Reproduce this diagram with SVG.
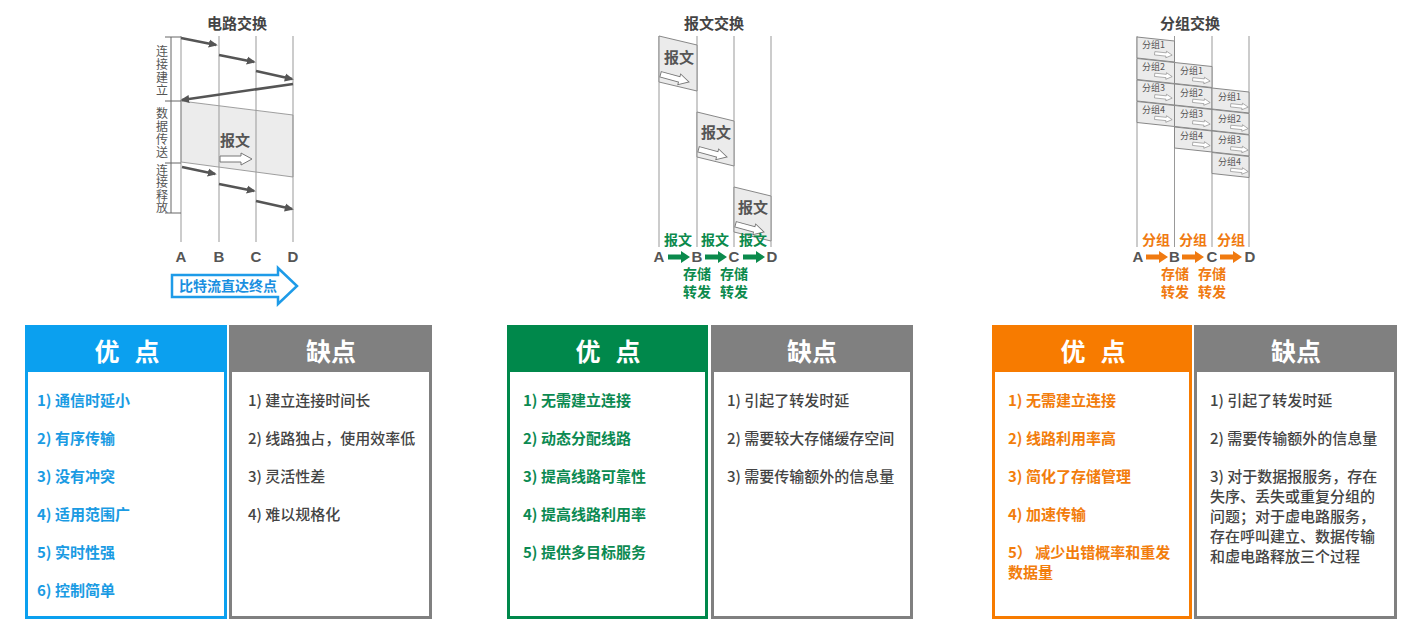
<svg xmlns="http://www.w3.org/2000/svg" width="1428" height="633" viewBox="0 0 1428 633">
<style>
.cjk{font-family:"Noto Sans CJK SC","Liberation Sans",sans-serif}
.title{font-family:"Noto Sans CJK SC",sans-serif;font-size:15px;font-weight:bold;fill:#444;text-anchor:middle}
.lat{font-family:"Liberation Sans","Noto Sans CJK SC",sans-serif;font-size:15px;font-weight:bold;fill:#555;text-anchor:middle}
.vl{stroke:#999;stroke-width:1;fill:none}
.sig{stroke:#555;stroke-width:2.5;fill:none;marker-end:url(#ah)}
.brk{font-family:"Noto Sans CJK SC",sans-serif;font-size:12px;fill:#555;writing-mode:tb;glyph-orientation-vertical:0}
.box{fill:#ebebeb;stroke:#888;stroke-width:1}
.boxt{font-family:"Noto Sans CJK SC",sans-serif;font-size:15px;font-weight:bold;fill:#555;text-anchor:middle}
.pt{font-family:"Noto Sans CJK SC",sans-serif;font-size:9px;fill:#555}
.gl{font-family:"Noto Sans CJK SC",sans-serif;font-size:14px;font-weight:bold;fill:#0b8a4c;text-anchor:middle}
.ol{font-family:"Noto Sans CJK SC",sans-serif;font-size:14px;font-weight:bold;fill:#f07a10;text-anchor:middle}
.hd{font-family:"Noto Sans CJK SC",sans-serif;font-size:25px;font-weight:bold;fill:#fff;text-anchor:middle}
.it{font-family:"Noto Sans CJK SC",sans-serif;font-size:15px;font-weight:bold}
.neg{font-family:"Noto Sans CJK SC",sans-serif;font-size:15px;font-weight:500;fill:#444}
.blue{fill:#1a9be3}.green{fill:#0c8a52}.orange{fill:#f27d0c}
</style>
<defs>
<marker id="ah" viewBox="0 0 10 10" refX="8" refY="5" markerWidth="9" markerHeight="9" markerUnits="userSpaceOnUse" orient="auto"><path d="M0,0.5 L10,5 L0,9.5 z" fill="#555"/></marker>
<path id="ha" d="M0,3 H21 V0 L32,6 L21,12 V9 H0 Z" fill="#fff" stroke="#777" stroke-width="1"/>
<path id="ga" d="M0,-2.6 H13 V-6 L22,0 L13,6 V2.6 H0 Z"/>
</defs>
<rect width="1428" height="633" fill="#fff"/>

<g id="circuit">
<text class="title" x="237" y="28.5">电路交换</text>
<polygon points="181,101 293,115 293,177 181,162" fill="#ececec" stroke="#888" stroke-width="0.8"/>
<line class="vl" x1="181" y1="36" x2="181" y2="242"/>
<line class="vl" x1="219" y1="36" x2="219" y2="242"/>
<line class="vl" x1="256" y1="36" x2="256" y2="242"/>
<line class="vl" x1="293" y1="36" x2="293" y2="242"/>
<line x1="171" y1="37" x2="171" y2="213" stroke="#666" stroke-width="1"/>
<line x1="165" y1="37" x2="181" y2="37" stroke="#666" stroke-width="1"/>
<line x1="165" y1="101" x2="181" y2="101" stroke="#666" stroke-width="1"/>
<line x1="165" y1="163" x2="181" y2="163" stroke="#666" stroke-width="1"/>
<line x1="165" y1="213" x2="181" y2="213" stroke="#666" stroke-width="1"/>
<text class="brk" x="162" y="45" letter-spacing="1">连接建立</text>
<text class="brk" x="162" y="107" letter-spacing="1">数据传送</text>
<text class="brk" x="162" y="164" letter-spacing="0.5">连接释放</text>
<text class="boxt" x="235" y="146" font-size="16">报文</text>
<use href="#ha" transform="translate(220,153)"/>
<text class="lat" x="181" y="262">A</text>
<text class="lat" x="219" y="262">B</text>
<text class="lat" x="256" y="262">C</text>
<text class="lat" x="293" y="262">D</text>
<path d="M172,275 H278 V268 L297,286 L278,304 V297 H172 Z" fill="#fff" stroke="#1e9be8" stroke-width="2.5" stroke-linejoin="miter"/>
<text class="cjk" x="228" y="291" font-size="14" font-weight="bold" fill="#1a8fe0" text-anchor="middle">比特流直达终点</text>
</g>

<g id="message">
<text class="title" x="714" y="28.5">报文交换</text>
<line class="vl" x1="659" y1="36" x2="659" y2="247"/>
<line class="vl" x1="697" y1="36" x2="697" y2="247"/>
<line class="vl" x1="734" y1="36" x2="734" y2="247"/>
<line class="vl" x1="771" y1="36" x2="771" y2="247"/>
<polygon class="box" points="659,36 697,45 697,91 659,82"/>
<text class="boxt" x="679" y="63">报文</text>
<use href="#ha" transform="translate(662,69) rotate(15) scale(0.92)"/>
<polygon class="box" points="697,112 734,121 734,166 697,157"/>
<text class="boxt" x="716" y="138">报文</text>
<use href="#ha" transform="translate(700,144) rotate(15) scale(0.92)"/>
<polygon class="box" points="734,187 771,196 771,241 734,232"/>
<text class="boxt" x="753" y="213">报文</text>
<use href="#ha" transform="translate(737,219) rotate(15) scale(0.92)"/>
<text class="gl" x="678" y="245">报文</text>
<text class="gl" x="715" y="245">报文</text>
<text class="gl" x="753" y="245">报文</text>
<text class="lat" x="659" y="262">A</text>
<text class="lat" x="697" y="262">B</text>
<text class="lat" x="734" y="262">C</text>
<text class="lat" x="772" y="262">D</text>
<text class="gl" x="697" y="279">存储</text>
<text class="gl" x="734" y="279">存储</text>
<text class="gl" x="697" y="297">转发</text>
<text class="gl" x="734" y="297">转发</text>
</g>

<g id="packet">
<text class="title" x="1190" y="28.5">分组交换</text>
<line class="vl" x1="1137" y1="36" x2="1137" y2="247"/>
<line class="vl" x1="1174.5" y1="36" x2="1174.5" y2="247"/>
<line class="vl" x1="1212" y1="36" x2="1212" y2="247"/>
<line class="vl" x1="1249" y1="36" x2="1249" y2="247"/>
<g id="pA">
<polygon class="box" points="1137,37 1174.5,41 1174.5,62 1137,58"/><text class="pt" x="1142" y="48">分组1</text><use href="#ha" transform="translate(1155,50) rotate(6) scale(0.55)"/>
<polygon class="box" points="1137,58.5 1174.5,62.5 1174.5,83.5 1137,79.5"/><text class="pt" x="1142" y="69.5">分组2</text><use href="#ha" transform="translate(1155,71.5) rotate(6) scale(0.55)"/>
<polygon class="box" points="1137,80 1174.5,84 1174.5,105 1137,101"/><text class="pt" x="1142" y="91">分组3</text><use href="#ha" transform="translate(1155,93) rotate(6) scale(0.55)"/>
<polygon class="box" points="1137,101.5 1174.5,105.5 1174.5,126.5 1137,122.5"/><text class="pt" x="1142" y="112.5">分组4</text><use href="#ha" transform="translate(1155,114.5) rotate(6) scale(0.55)"/>
</g>
<g id="pB">
<polygon class="box" points="1174.5,62.5 1212,66.5 1212,87.5 1174.5,83.5"/><text class="pt" x="1180" y="74">分组1</text><use href="#ha" transform="translate(1193,76) rotate(6) scale(0.55)"/>
<polygon class="box" points="1174.5,84 1212,88 1212,109 1174.5,105"/><text class="pt" x="1180" y="95.5">分组2</text><use href="#ha" transform="translate(1193,97.5) rotate(6) scale(0.55)"/>
<polygon class="box" points="1174.5,105.5 1212,109.5 1212,130.5 1174.5,126.5"/><text class="pt" x="1180" y="117">分组3</text><use href="#ha" transform="translate(1193,119) rotate(6) scale(0.55)"/>
<polygon class="box" points="1174.5,127 1212,131 1212,152 1174.5,148"/><text class="pt" x="1180" y="138.5">分组4</text><use href="#ha" transform="translate(1193,140.5) rotate(6) scale(0.55)"/>
</g>
<g id="pC">
<polygon class="box" points="1212,88 1249,92 1249,113 1212,109"/><text class="pt" x="1218" y="100">分组1</text><use href="#ha" transform="translate(1231,102) rotate(6) scale(0.55)"/>
<polygon class="box" points="1212,109.5 1249,113.5 1249,134.5 1212,130.5"/><text class="pt" x="1218" y="121.5">分组2</text><use href="#ha" transform="translate(1231,123.5) rotate(6) scale(0.55)"/>
<polygon class="box" points="1212,131 1249,135 1249,156 1212,152"/><text class="pt" x="1218" y="143">分组3</text><use href="#ha" transform="translate(1231,145) rotate(6) scale(0.55)"/>
<polygon class="box" points="1212,152.5 1249,156.5 1249,177.5 1212,173.5"/><text class="pt" x="1218" y="164.5">分组4</text><use href="#ha" transform="translate(1231,166.5) rotate(6) scale(0.55)"/>
</g>
<text class="ol" x="1156" y="245">分组</text>
<text class="ol" x="1193" y="245">分组</text>
<text class="ol" x="1231" y="245">分组</text>
<text class="lat" x="1138" y="262">A</text>
<text class="lat" x="1174.5" y="262">B</text>
<text class="lat" x="1212" y="262">C</text>
<text class="lat" x="1250" y="262">D</text>
<text class="ol" x="1175" y="279">存储</text>
<text class="ol" x="1212" y="279">存储</text>
<text class="ol" x="1175" y="297">转发</text>
<text class="ol" x="1212" y="297">转发</text>
</g>

<g id="connectors">
<line class="sig" x1="181" y1="38" x2="216" y2="45"/>
<line class="sig" x1="219" y1="55" x2="254" y2="62"/>
<line class="sig" x1="256" y1="71" x2="292" y2="79"/>
<line class="sig" x1="293" y1="84" x2="182" y2="100"/>
<line class="sig" x1="182" y1="167" x2="215" y2="174"/>
<line class="sig" x1="219" y1="184" x2="254" y2="191"/>
<line class="sig" x1="256" y1="201" x2="292" y2="209"/>
<use href="#ga" fill="#0b8a4c" transform="translate(668,257)"/>
<use href="#ga" fill="#0b8a4c" transform="translate(705,257)"/>
<use href="#ga" fill="#0b8a4c" transform="translate(743,257)"/>
<use href="#ga" fill="#f07a10" transform="translate(1146,257)"/>
<use href="#ga" fill="#f07a10" transform="translate(1182,257)"/>
<use href="#ga" fill="#f07a10" transform="translate(1220,257)"/>
</g>

<g id="circuit-pros">
<rect x="26.5" y="326.5" width="199" height="291" fill="#fff" stroke="#0ba0ef" stroke-width="3"/>
<rect x="25" y="325" width="202" height="47" fill="#0ba0ef"/>
<text class="hd" y="361"><tspan x="107">优</tspan><tspan x="147">点</tspan></text>
<text class="it blue" x="37" y="405.5">1) 通信时延小</text>
<text class="it blue" x="37" y="443.5">2) 有序传输</text>
<text class="it blue" x="37" y="481.5">3) 没有冲突</text>
<text class="it blue" x="37" y="519.5">4) 适用范围广</text>
<text class="it blue" x="37" y="557.5">5) 实时性强</text>
<text class="it blue" x="37" y="595.5">6) 控制简单</text>
</g>
<g id="circuit-cons">
<rect x="230.5" y="326.5" width="200" height="291" fill="#fff" stroke="#808080" stroke-width="3"/>
<rect x="229" y="325" width="203" height="47" fill="#808080"/>
<text class="hd" x="331" y="361">缺点</text>
<text class="neg" x="248" y="405.5">1) 建立连接时间长</text>
<text class="neg" x="248" y="443.5">2) 线路独占，使用效率低</text>
<text class="neg" x="248" y="481.5">3) 灵活性差</text>
<text class="neg" x="248" y="519.5">4) 难以规格化</text>
</g>

<g id="message-pros">
<rect x="508.5" y="326.5" width="198" height="291" fill="#fff" stroke="#00884b" stroke-width="3"/>
<rect x="507" y="325" width="201" height="47" fill="#00884b"/>
<text class="hd" y="361"><tspan x="588">优</tspan><tspan x="628">点</tspan></text>
<text class="it green" x="523" y="405.5">1) 无需建立连接</text>
<text class="it green" x="523" y="443.5">2) 动态分配线路</text>
<text class="it green" x="523" y="481.5">3) 提高线路可靠性</text>
<text class="it green" x="523" y="519.5">4) 提高线路利用率</text>
<text class="it green" x="523" y="557.5">5) 提供多目标服务</text>
</g>
<g id="message-cons">
<rect x="712.5" y="326.5" width="199" height="291" fill="#fff" stroke="#808080" stroke-width="3"/>
<rect x="711" y="325" width="202" height="47" fill="#808080"/>
<text class="hd" x="812" y="361">缺点</text>
<text class="neg" x="727" y="405.5">1) 引起了转发时延</text>
<text class="neg" x="727" y="443.5">2) 需要较大存储缓存空间</text>
<text class="neg" x="727" y="481.5">3) 需要传输额外的信息量</text>
</g>

<g id="packet-pros">
<rect x="993.5" y="326.5" width="197" height="291" fill="#fff" stroke="#f77b00" stroke-width="3"/>
<rect x="992" y="325" width="200" height="47" fill="#f77b00"/>
<text class="hd" y="361"><tspan x="1073">优</tspan><tspan x="1113">点</tspan></text>
<text class="it orange" x="1008" y="405.5">1) 无需建立连接</text>
<text class="it orange" x="1008" y="443.5">2) 线路利用率高</text>
<text class="it orange" x="1008" y="481.5">3) 简化了存储管理</text>
<text class="it orange" x="1008" y="519.5">4) 加速传输</text>
<text class="it orange" x="1008" y="557.5">5） 减少出错概率和重发</text>
<text class="it orange" x="1008" y="577.5">数据量</text>
</g>
<g id="packet-cons">
<rect x="1195.5" y="326.5" width="200" height="291" fill="#fff" stroke="#808080" stroke-width="3"/>
<rect x="1194" y="325" width="203" height="47" fill="#808080"/>
<text class="hd" x="1296" y="361">缺点</text>
<text class="neg" x="1210" y="405.5">1) 引起了转发时延</text>
<text class="neg" x="1210" y="443.5">2) 需要传输额外的信息量</text>
<text class="neg" x="1210" y="481.5">3) 对于数据报服务，存在</text>
<text class="neg" x="1210" y="501.5">失序、丢失或重复分组的</text>
<text class="neg" x="1210" y="521.5">问题；对于虚电路服务，</text>
<text class="neg" x="1210" y="541.5">存在呼叫建立、数据传输</text>
<text class="neg" x="1210" y="561.5">和虚电路释放三个过程</text>
</g>
</svg>
